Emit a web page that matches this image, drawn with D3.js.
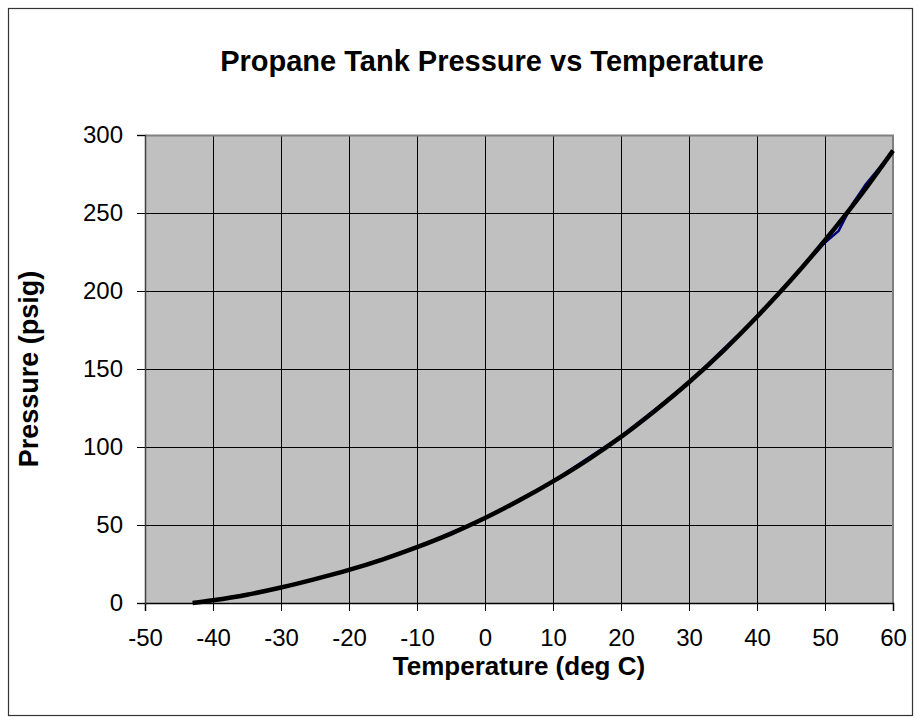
<!DOCTYPE html>
<html><head><meta charset="utf-8">
<script src="https://cdn.jsdelivr.net/npm/d3@7/dist/d3.min.js"></script>
<style>body{margin:0;background:#fff}svg{display:block}text{font-family:"Liberation Sans",Arial,sans-serif}</style>
</head><body><svg id="c" width="920" height="723"></svg>
<script>
// Data
const trendTemps = [-43,-40,-35,-30,-25,-20,-15,-10,-5,0,5,10,15,20,25,30,35,40,45,50,55,60];
const trendPsig  = [0,1.7,5.3,9.9,15.3,21.2,28,35.8,44.5,54.5,65.7,78,91.5,106.5,123.3,141.5,161.5,183.5,207,232.5,260,290];
const dataTemps = [-42,-40,-30,-20,-10,0,10,20,30,40,50,52,54,56,58,60];
const dataPsig  = [0.3,1.6,9.8,21,35.6,54.4,78,106.8,141.4,183.5,231,238.5,255.5,268.5,279,290];
const xTicks = [-50,-40,-30,-20,-10,0,10,20,30,40,50,60];
const yTicks = [0,50,100,150,200,250,300];
const title = "Propane Tank Pressure vs Temperature";
const xTitle = "Temperature (deg C)";
const yTitle = "Pressure (psig)";

const svg = d3.select("#c");
const L=145, R=893, T=135, B=603;
const x = d3.scaleLinear().domain([-50,60]).range([L,R]);
const y = d3.scaleLinear().domain([0,300]).range([B,T]);

svg.append("rect").attr("x",8.5).attr("y",8.5).attr("width",904).attr("height",707)
  .attr("fill","#fff").attr("stroke","#333").attr("stroke-width",1.2);

svg.append("rect").attr("x",L).attr("y",T).attr("width",R-L).attr("height",B-T).attr("fill","#c0c0c0");

// grid
svg.append("g").selectAll("line").data(xTicks.slice(1,-1)).join("line")
  .attr("x1",d=>Math.round(x(d))+0.5).attr("x2",d=>Math.round(x(d))+0.5).attr("y1",T).attr("y2",B)
  .attr("stroke","#000").attr("stroke-width",1);
svg.append("g").selectAll("line").data(yTicks.slice(1,-1)).join("line")
  .attr("y1",d=>Math.round(y(d))+0.5).attr("y2",d=>Math.round(y(d))+0.5).attr("x1",L).attr("x2",R)
  .attr("stroke","#000").attr("stroke-width",1);

// border top/right gray
svg.append("path").attr("d",`M${L},${T+0.5}H${R}V${B}`).attr("fill","none").attr("stroke","#808080").attr("stroke-width",2);

// axes
const fmt = d => String(d);
const xa = svg.append("g").attr("transform",`translate(0,${B})`)
  .call(d3.axisBottom(x).tickValues(xTicks).tickSize(8).tickPadding(18).tickFormat(fmt));
const ya = svg.append("g").attr("transform",`translate(${L},0)`)
  .call(d3.axisLeft(y).tickValues(yTicks).tickSize(8).tickPadding(14).tickFormat(fmt));
[xa,ya].forEach(a=>{
  a.select(".domain").attr("stroke","#000").attr("stroke-width",1.5);
  a.selectAll(".tick line").attr("stroke","#000");
  a.selectAll("text").attr("font-size",24).attr("fill","#000").attr("font-family","Liberation Sans, Arial, sans-serif");
});
ya.select(".domain").attr("stroke","#404040");

// series
const line = d3.line().x(d=>x(d[0])).y(d=>y(d[1]));
svg.append("path").datum(dataTemps.map((t,i)=>[t,dataPsig[i]]))
  .attr("d",line).attr("fill","none").attr("stroke","#000080").attr("stroke-width",2.5);
svg.append("path").datum(trendTemps.map((t,i)=>[t,trendPsig[i]]))
  .attr("d",line.curve(d3.curveCatmullRom)).attr("fill","none").attr("stroke","#000").attr("stroke-width",4.5);

// titles
svg.append("text").attr("x",492).attr("y",71).attr("text-anchor","middle")
  .attr("font-size",29).attr("font-weight","bold").text(title);
svg.append("text").attr("x",519).attr("y",675).attr("text-anchor","middle")
  .attr("font-size",26).attr("font-weight","bold").text(xTitle);
svg.append("text").attr("transform","translate(38,369) rotate(-90)").attr("text-anchor","middle")
  .attr("font-size",27).attr("font-weight","bold").text(yTitle);
</script></body></html>
